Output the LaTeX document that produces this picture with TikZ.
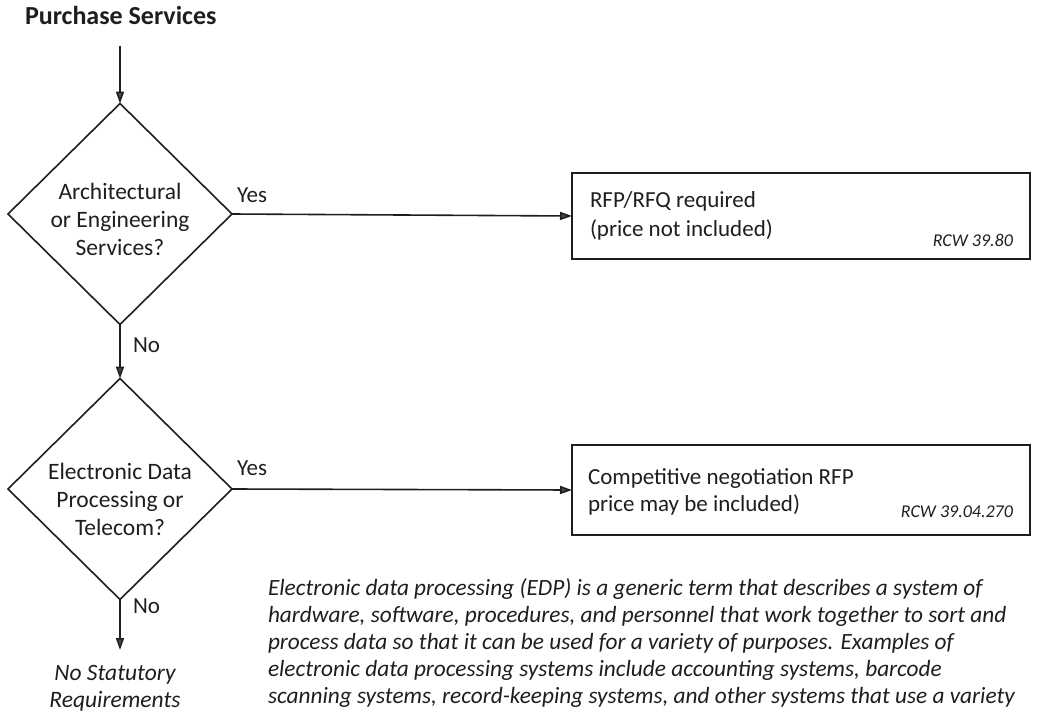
\documentclass[tikz,border=0pt]{standalone}
\usepackage{fontspec}
\setmainfont{Carlito}
\usetikzlibrary{shapes.geometric,arrows.meta}
\definecolor{ink}{HTML}{1E1E1E}
\definecolor{tipgray}{HTML}{4A4A4A}
\begin{document}
\begin{tikzpicture}[x=1pt,y=-1pt,
  every node/.style={inner sep=0pt, outer sep=0pt, text=ink},
  decision/.style={diamond, draw=ink, line width=1.6pt, minimum width=224pt, minimum height=221pt, inner sep=0pt},
  dtext/.style={align=center, font=\fontsize{23.5}{28}\selectfont},
  outbox/.style={rectangle, draw=ink, line width=2.2pt, minimum width=458pt},
  btext/.style={align=left, anchor=west},
  rcw/.style={font=\fontsize{18}{20}\selectfont\itshape, anchor=base east},
  lbl/.style={font=\fontsize{23}{26}\selectfont, anchor=base west},
  flow/.style={draw=ink, line width=1.6pt, -{Triangle[length=12pt,width=8pt,fill=tipgray]}},
  note/.style={align=left, font=\fontsize{23.3}{26.8}\selectfont\itshape},
]
\useasboundingbox (0,0) rectangle (1039,717);

\node[font=\fontsize{26}{30}\selectfont\bfseries, anchor=base west] (title) at (25,25) {Purchase Services};
\coordinate (start) at (120,46);

\node[decision] (d1) at (120,214) {};
\node[dtext] (d1t) at (120,219) {Architectural\\or Engineering\\Services?};

\node[decision] (d2) at (120,489) {};
\node[dtext] (d2t) at (120,499) {Electronic Data\\Processing or\\Telecom?};

\node[outbox, minimum height=86pt] (b1) at (801,216) {};
\node[btext, font=\fontsize{23}{29}\selectfont] (b1t) at (590,216) {RFP/RFQ required\\(price not included)};
\node[rcw] (r1) at (1013,246) {RCW 39.80};

\node[outbox, minimum height=90pt] (b2) at (801,490) {};
\node[btext, font=\fontsize{23}{27.5}\selectfont] (b2t) at (588,492) {Competitive negotiation RFP\\price may be included)};
\node[rcw] (r2) at (1013,517) {RCW 39.04.270};

\node[lbl] (y1) at (237,202) {Yes};
\node[lbl] (y2) at (237,475) {Yes};
\node[lbl] (n1) at (133,352) {No};
\node[lbl] (n2) at (133,613) {No};

\coordinate (end) at (120,650);
\node[align=center, anchor=base, font=\fontsize{23.5}{27}\selectfont\itshape] (nsr) at (115,707) {No Statutory\\Requirements};

\node[note, anchor=base west] (para) at (268,703) {Electronic data processing (EDP) is a generic term that describes a system of\\hardware, software, procedures, and personnel that work together to sort and\\process data so that it can be used for a variety of purposes. Examples of\\electronic data processing systems include accounting systems, barcode\\scanning systems, record-keeping systems, and other systems that use a variety};

\draw[flow] (start) -- (d1.north);
\draw[flow] (d1.east) -- (b1.west);
\draw[flow] (d1.south) -- (d2.north);
\draw[flow] (d2.east) -- (b2.west);
\draw[flow] (d2.south) -- (end);
\end{tikzpicture}
\end{document}
